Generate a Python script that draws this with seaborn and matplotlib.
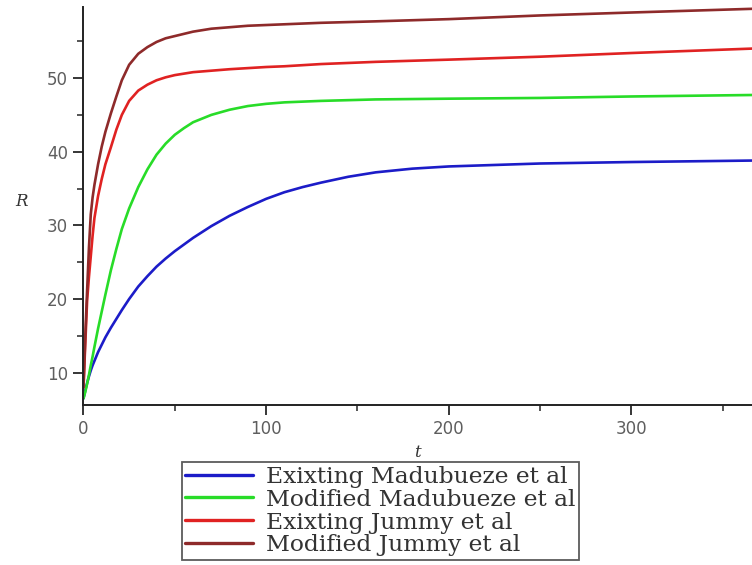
import numpy as np
import pandas as pd
import matplotlib
matplotlib.use("Agg")
import matplotlib.pyplot as plt
import seaborn as sns
from matplotlib.ticker import MultipleLocator

# time (days) and R values
t = [0, 1, 2, 3, 4, 5, 6, 8, 10, 12, 15, 18, 21, 25, 30, 35, 40, 45, 50, 55, 60,
     70, 80, 90, 100, 110, 120, 130, 145, 160, 180, 200, 250, 300, 366]
existing_madubueze = [6.5, 7.6, 8.6, 9.5, 10.3, 11.0, 11.6, 12.8, 13.8, 14.8, 16.1, 17.3, 18.5,
                      20.0, 21.7, 23.1, 24.4, 25.5, 26.5, 27.4, 28.3, 29.9, 31.3, 32.5, 33.6,
                      34.5, 35.2, 35.8, 36.6, 37.2, 37.7, 38.0, 38.4, 38.6, 38.8]
modified_madubueze = [6.5, 7.4, 8.5, 9.7, 11.0, 12.2, 13.5, 16.0, 18.3, 20.6, 23.9, 26.8, 29.5,
                      32.3, 35.2, 37.6, 39.6, 41.1, 42.3, 43.2, 44.0, 45.0, 45.7, 46.2, 46.5,
                      46.7, 46.8, 46.9, 47.0, 47.1, 47.15, 47.2, 47.3, 47.5, 47.7]
existing_jummy = [8.0, 14.0, 19.8, 23.0, 25.8, 28.6, 31.0, 34.0, 36.3, 38.3, 40.6, 43.0, 45.0,
                  46.9, 48.3, 49.1, 49.7, 50.1, 50.4, 50.6, 50.8, 51.0, 51.2, 51.35, 51.5,
                  51.6, 51.75, 51.9, 52.05, 52.2, 52.35, 52.5, 52.9, 53.4, 54.0]
modified_jummy = [8.0, 15.0, 21.2, 27.0, 31.5, 33.8, 35.5, 38.3, 40.7, 42.7, 45.2, 47.5, 49.7,
                  51.8, 53.3, 54.2, 54.9, 55.4, 55.7, 56.0, 56.3, 56.7, 56.9, 57.1, 57.2,
                  57.3, 57.4, 57.5, 57.6, 57.7, 57.85, 58.0, 58.5, 58.9, 59.4]

labels = ["Exixting Madubueze et al", "Modified Madubueze et al",
          "Exixting Jummy et al", "Modified Jummy et al"]
colors = ["#1c1cc8", "#28dc28", "#e02222", "#8e2a2a"]

frames = []
for lab, vals in zip(labels, [existing_madubueze, modified_madubueze, existing_jummy, modified_jummy]):
    frames.append(pd.DataFrame({"t": t, "R": vals, "model": lab}))
df = pd.concat(frames, ignore_index=True)

sns.set_style("ticks")
plt.rcParams["font.family"] = ["DejaVu Serif", "DejaVu Sans"]

fig = plt.figure(figsize=(7.52, 5.65), dpi=100)
ax = fig.add_axes([0.111, 0.283, 0.889, 0.704])

sns.lineplot(data=df, x="t", y="R", hue="model", hue_order=labels,
             palette=dict(zip(labels, colors)), linewidth=1.9, ax=ax, legend=False)

ax.set_xlim(0, 366)
ax.set_ylim(5.6, 59.6)
ax.xaxis.set_major_locator(MultipleLocator(100))
ax.xaxis.set_minor_locator(MultipleLocator(50))
ax.yaxis.set_major_locator(MultipleLocator(10))
ax.yaxis.set_minor_locator(MultipleLocator(5))
ax.tick_params(which="major", length=7, width=1.3, pad=4)
ax.tick_params(which="minor", length=4, width=1.1)
for lbl in ax.get_xticklabels() + ax.get_yticklabels():
    lbl.set_family("DejaVu Sans")
    lbl.set_fontsize(12)
    lbl.set_color("#5e5e5e")
for s in ["top", "right"]:
    ax.spines[s].set_visible(False)
for s in ["left", "bottom"]:
    ax.spines[s].set_linewidth(1.4)
    ax.spines[s].set_color("#222222")

ax.set_xlabel("t", fontstyle="italic", fontsize=12, color="#333333", labelpad=4)
ax.set_ylabel("R", fontstyle="italic", fontsize=12, color="#333333", rotation=0)
ax.yaxis.set_label_coords(-0.092, 0.49)

handles = [plt.Line2D([], [], color=c, linewidth=2.4) for c in colors]
leg = fig.legend(handles, labels, loc="upper left", bbox_to_anchor=(0.242, 0.182),
                 borderaxespad=0, frameon=True, fancybox=False, fontsize=16.8,
                 handlelength=2.9, handletextpad=0.55, labelspacing=0.04, borderpad=0.15)
leg.get_frame().set_edgecolor("#333333")
leg.get_frame().set_linewidth(1.3)
for txt in leg.get_texts():
    txt.set_color("#333333")

fig.savefig("out.png", dpi=100)
